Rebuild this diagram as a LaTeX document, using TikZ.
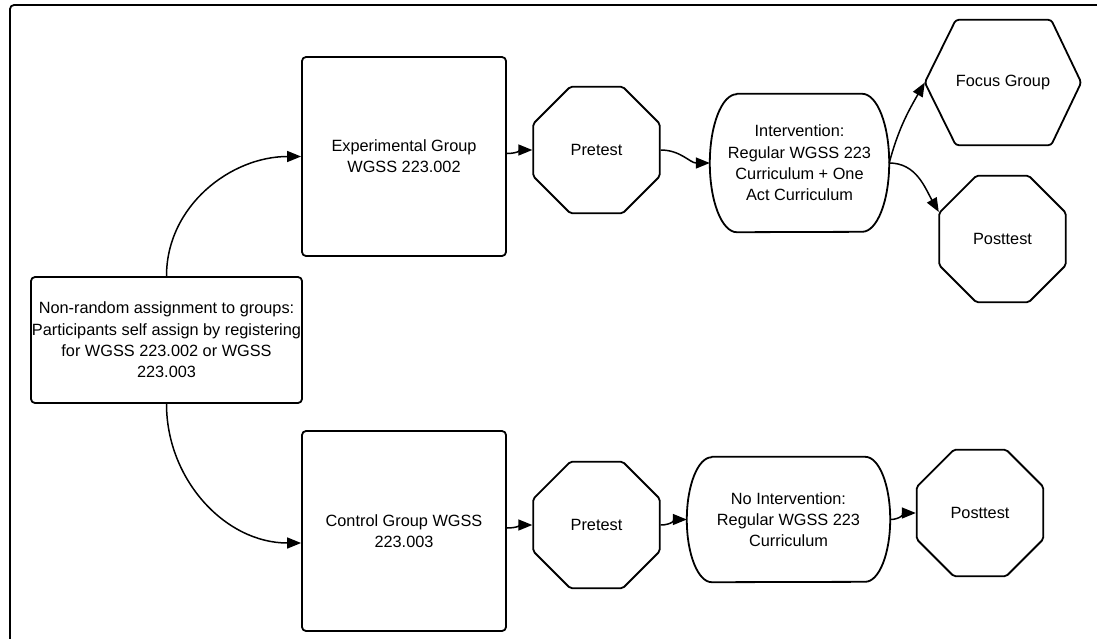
\documentclass[tikz,border=0pt]{standalone}
\usepackage{fontspec}
\setmainfont{Liberation Sans}
\usetikzlibrary{shapes.geometric,arrows.meta}

\tikzset{
    shapeline/.style={line width=1.8pt, line join=round},
    box/.style={shapeline, draw, rounded corners=4pt, align=center, inner sep=0pt},
    octa/.style={shapeline, draw, regular polygon, regular polygon sides=8,
        minimum size=137pt, inner sep=0pt, rounded corners=2pt},
    blank/.style={inner sep=0pt, align=center},
    flow/.style={line width=1.5pt, -{Triangle[length=14pt,width=11pt]}},
}

% stadium outline round a blank node: name, x radius, y radius
\newcommand\stadium[3]{%
    \draw[shapeline] ([xshift=#2]#1.north west) -- ([xshift=-#2]#1.north east)
        arc[start angle=90, end angle=-90, x radius=#2, y radius=#3]
        -- ([xshift=#2]#1.south west)
        arc[start angle=270, end angle=90, x radius=#2, y radius=#3] -- cycle;}

\begin{document}
\begin{tikzpicture}[x=1pt, y=1pt, font=\fontsize{16.3}{21.3}\selectfont]
    \clip (0,0) rectangle (1097,-638);
    \draw[shapeline, rounded corners=4pt] (10,-5) rectangle (1130,-670);

    % assignment and groups
    \node[box, minimum width=271pt, minimum height=126pt] (assign) at (166.5,-340)
        {Non-random assignment to groups:\\Participants self assign by registering\\for WGSS 223.002 or WGSS\\223.003};
    \node[box, minimum width=204pt, minimum height=199pt] (exp) at (404,-156.5)
        {Experimental Group\\WGSS 223.002};
    \node[box, minimum width=204pt, minimum height=200pt] (ctrl) at (404,-531)
        {Control Group WGSS\\223.003};

    % experimental row
    \node[octa] (preA) at (596.5,-150) {Pretest};
    \node[blank, minimum width=179pt, minimum height=138pt] (intv) at (799.5,-163)
        {Intervention:\\Regular WGSS 223\\Curriculum + One\\Act Curriculum};
    \stadium{intv}{27pt}{69pt}
    \node[blank, minimum width=156pt, minimum height=125pt] (fg) at (1003,-82.5) {Focus Group};
    \draw[shapeline, rounded corners=3pt] (fg.west) -- ([xshift=31pt]fg.north west)
        -- ([xshift=-30pt]fg.north east) -- (fg.east) -- ([xshift=-30pt]fg.south east)
        -- ([xshift=31pt]fg.south west) -- cycle;
    \node[octa] (postA) at (1002.5,-239) {Posttest};

    % control row
    \node[octa] (preB) at (596.5,-525) {Pretest};
    \node[blank, minimum width=203pt, minimum height=125pt] (nointv) at (788.5,-519.5)
        {No Intervention:\\Regular WGSS 223\\Curriculum};
    \stadium{nointv}{25pt}{62.5pt}
    \node[octa] (postB) at (980,-513) {Posttest};

    % connectors
    \draw[flow] (assign.north) to[out=90, in=180] (exp.west);
    \draw[flow] (assign.south) to[out=-90, in=180] ([yshift=-12pt]ctrl.west);
    \draw[flow] ([yshift=3pt]exp.east) to[out=0, in=180] (preA.west);
    \draw[flow] (preA.east) to[out=0, in=180] (intv.west);
    \draw[flow] (intv.east) to[out=75, in=240] (fg.west);
    \draw[flow] (intv.east) to[out=0, in=120] (postA.157);
    \draw[flow] ([yshift=3pt]ctrl.east) to[out=0, in=180] (preB.west);
    \draw[flow] (preB.east) to[out=0, in=180] (nointv.west);
    \draw[flow] (nointv.east) to[out=0, in=180] (postB.west);
\end{tikzpicture}
\end{document}
